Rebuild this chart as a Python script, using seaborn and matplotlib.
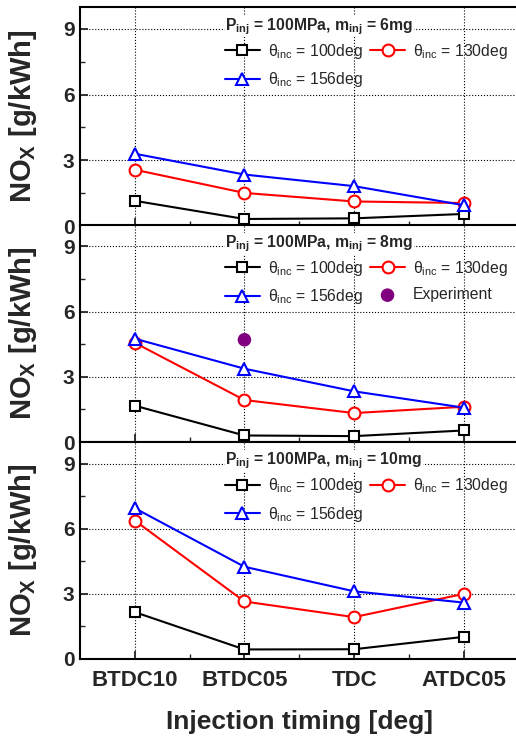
import matplotlib
matplotlib.use("Agg")
import matplotlib.pyplot as plt
import seaborn as sns
import numpy as np
from matplotlib.ticker import FixedLocator

# ---------------- data ----------------
timing = ["BTDC10", "BTDC05", "TDC", "ATDC05"]
masses = ["6mg", "8mg", "10mg"]

m6_100 = [1.15, 0.32, 0.35, 0.55]
m6_130 = [2.57, 1.51, 1.12, 1.05]
m6_156 = [3.30, 2.35, 1.82, 0.95]

m8_100 = [1.67, 0.30, 0.27, 0.53]
m8_130 = [4.56, 1.93, 1.33, 1.62]
m8_156 = [4.75, 3.37, 2.33, 1.58]
m8_exp_timing = ["BTDC05"]
m8_exp = [4.70]

m10_100 = [2.16, 0.44, 0.45, 1.02]
m10_130 = [6.38, 2.65, 1.93, 3.00]
m10_156 = [6.95, 4.25, 3.12, 2.60]

yticks = [0, 3, 6, 9]
# ---------------------------------------

sns.set_style("ticks")
plt.rcParams["font.family"] = ["Liberation Sans", "DejaVu Sans"]
plt.rcParams["mathtext.fontset"] = "custom"
plt.rcParams["mathtext.rm"] = "Liberation Sans"
plt.rcParams["mathtext.it"] = "Liberation Sans:italic"
plt.rcParams["mathtext.bf"] = "Liberation Sans:bold"

W, H = 516, 740
fig = plt.figure(figsize=(W / 100, H / 100), dpi=100)
left = 80 / W
right = 518.5 / W
tops = [7, 224.5, 442]
bottoms = [226, 442, 659]

series = [
    (m6_100, m6_130, m6_156),
    (m8_100, m8_130, m8_156),
    (m10_100, m10_130, m10_156),
]
xpos = np.arange(len(timing))

axes = []
for i in range(3):
    t, b = tops[i], bottoms[i]
    ax = fig.add_axes([left, 1 - b / H, right - left, (b - t) / H])
    axes.append(ax)
    s100, s130, s156 = series[i]
    kw = dict(linewidth=1.5, markeredgewidth=1.5, markerfacecolor="white", ax=ax)
    sns.lineplot(x=xpos, y=s100, color="black", marker="s", markersize=7,
                 markeredgecolor="black", label=r"θ$_{\mathrm{inc}}$ = 100deg", **kw)
    sns.lineplot(x=xpos, y=s130, color="#ff0000", marker="o", markersize=8.5,
                 markeredgecolor="#ff0000", label=r"θ$_{\mathrm{inc}}$ = 130deg", **kw)
    sns.lineplot(x=xpos, y=s156, color="#0000ff", marker="^", markersize=9,
                 markeredgecolor="#0000ff", label=r"θ$_{\mathrm{inc}}$ = 156deg", **kw)
    if i == 1:
        ex = [timing.index(v) for v in m8_exp_timing]
        sns.scatterplot(x=ex, y=m8_exp, color="#800080", s=95, edgecolor="none",
                        label="Experiment", ax=ax, zorder=5)

    ax.set_xlim(-0.5, 3.5)
    ax.set_ylim(0, 10)
    ax.xaxis.set_major_locator(FixedLocator(xpos))
    ax.xaxis.set_minor_locator(FixedLocator(xpos[:-1] + 0.5))
    ax.yaxis.set_major_locator(FixedLocator(yticks))
    ax.yaxis.set_minor_locator(FixedLocator([1.5, 4.5, 7.5]))
    ax.grid(True, which="major", linestyle=":", color="black", linewidth=0.8)
    ax.set_axisbelow(True)
    for sp in ax.spines.values():
        sp.set_linewidth(1.5)
        sp.set_color("black")
    ax.tick_params(which="major", direction="in", length=6, width=1.3, pad=4,
                   labelsize=15, top=False, right=False)
    ax.tick_params(which="minor", direction="in", length=3.5, width=1.0,
                   top=False, right=False)
    ax.set_yticklabels([str(v) for v in yticks], fontweight="bold")
    if i < 2:
        ax.set_xticklabels([])
    else:
        ax.set_xticklabels(timing, fontweight="bold", fontsize=16)
        ax.tick_params(axis="x", which="major", pad=8)
        ax.set_xlabel("Injection timing [deg]", fontsize=19, fontweight="bold")
        ax.xaxis.set_label_coords(0.5, -0.235)

    ax.set_ylabel(r"NO$_\mathbf{X}$ [g/kWh]", fontsize=21, fontweight="bold")
    ax.yaxis.set_label_coords(-0.093, 0.5)

    ax.text(0.331, 0.895,
            r"P$_{\mathbf{inj}}$ = 100MPa, m$_{\mathbf{inj}}$ = " + masses[i],
            transform=ax.transAxes, fontsize=11.3, fontweight="bold",
            ha="left", va="baseline", zorder=4,
            bbox=dict(facecolor="white", edgecolor="none", pad=0.5))

    handles, labels = ax.get_legend_handles_labels()
    order = [0, 2, 1] + ([3] if len(handles) > 3 else [])
    leg = ax.legend([handles[k] for k in order], [labels[k] for k in order],
                    ncol=2, loc="upper left", bbox_to_anchor=(0.331, 0.842),
                    frameon=False, fontsize=11.3, borderpad=0, borderaxespad=0,
                    handlelength=2.2, handletextpad=0.5, columnspacing=0.5,
                    labelspacing=0.6, scatterpoints=1)

fig.savefig("out.png", dpi=100)
